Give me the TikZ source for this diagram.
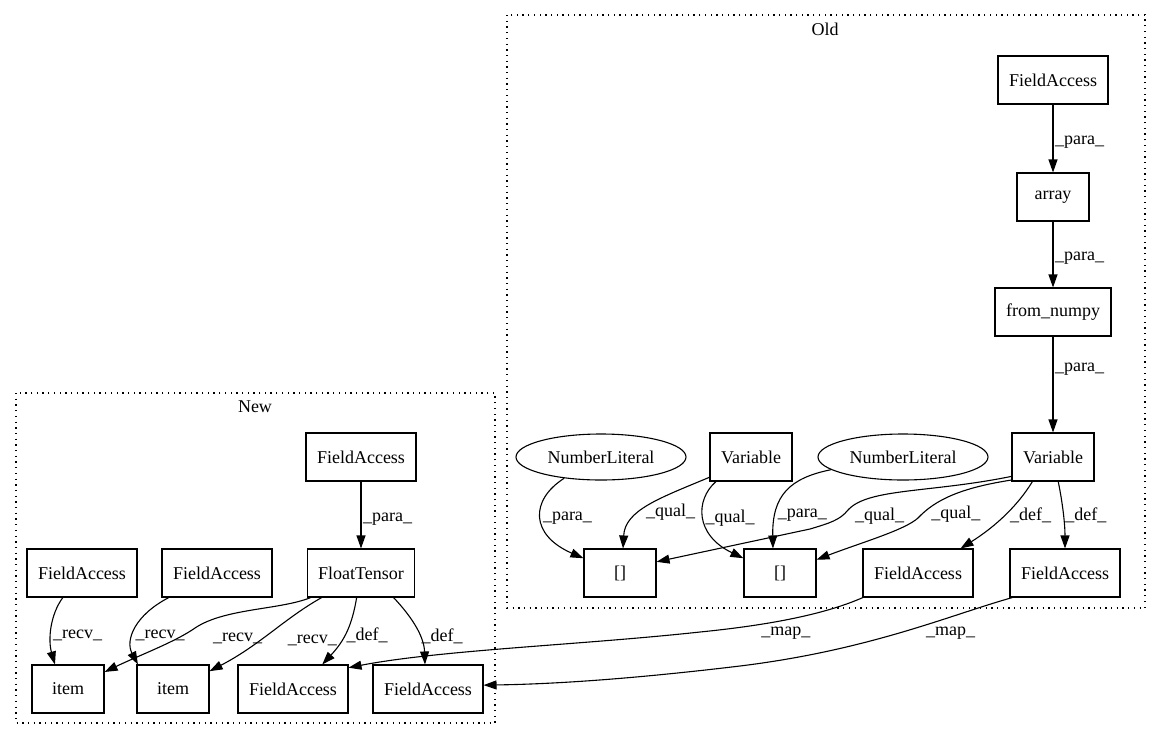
\documentclass[tikz,border=0pt]{standalone}
\usepackage{fontspec}
\setmainfont{Liberation Serif}
\usetikzlibrary{shapes,arrows.meta}
\tikzstyle{box}     = [rectangle, draw, text centered, line width=1.1pt, minimum width=72pt, minimum height=48pt, inner xsep=11pt]
\tikzstyle{literal} = [ellipse, draw, text centered, line width=1.1pt, minimum width=170pt, minimum height=46pt, inner sep=0pt]
\tikzstyle{flow}    = [draw, line width=1.1pt, ->, >={Triangle[length=13pt, width=9pt]}]
\tikzstyle{lbl}     = [inner sep=1.5pt, anchor=west]
\tikzstyle{cluster} = [draw, line width=1.2pt, dash pattern=on 1.3pt off 4.4pt]

\begin{document}
\begin{tikzpicture}[x=1pt, y=-1pt, font=\fontsize{18}{21}\selectfont]
            \useasboundingbox (0,0) rectangle (1160,740);
            % clusters
            \draw[cluster] (507,15) rectangle (1145,608);
            \node (oldname) at (825,29) {Old};
            \draw[cluster] (16,393) rectangle (495,723);
            \node (newname) at (255,407) {New};

            % old
            \node[box] (faold) at (1053,80) {FieldAccess};
            \node[box, node distance=117pt, below of=faold] (array) {array};
            \node[box, node distance=115pt, below of=array] (fromnumpy) {from\_numpy};
            \node[box, node distance=145pt, below of=fromnumpy] (varb) {Variable};
            \node[box] (vara) at (751,457) {Variable};
            \node[literal] (numa) at (601,457) {NumberLiteral};
            \node[literal] (numb) at (903,457) {NumberLiteral};
            \node[box] (idxa) at (620,573) {[]};
            \node[box] (idxb) at (780,573) {[]};
            \node[box] (fadefa) at (918,573) {FieldAccess};
            \node[box] (fadefb) at (1065,573) {FieldAccess};

            % new
            \node[box] (fanew) at (361,457) {FieldAccess};
            \node[box, node distance=116pt, below of=fanew] (floattensor) {FloatTensor};
            \node[box] (farecva) at (82,573) {FieldAccess};
            \node[box] (farecvb) at (217,573) {FieldAccess};
            \node[box] (itema) at (68,689) {item};
            \node[box] (itemb) at (173,689) {item};
            \node[box] (fanewdefa) at (293,689) {FieldAccess};
            \node[box] (fanewdefb) at (428,689) {FieldAccess};

            \path [flow] (faold) -- node[lbl, yshift=-4pt] {\_para\_} (array);
            \path [flow] (array) -- node[lbl, yshift=-4pt] {\_para\_} (fromnumpy);
            \path [flow] (fromnumpy) -- node[lbl, pos=.3, yshift=-4pt] {\_para\_} (varb);
            \path [flow] (numa.210) .. controls (530,500) and (530,535) .. (idxa.158) node[lbl, pos=.5] {\_para\_};
            \path [flow] (vara.206) .. controls (660,498) and (625,510) .. (idxa.83) node[lbl, pos=.55, yshift=-3pt] {\_qual\_};
            \path [flow] (vara.215) .. controls (695,500) and (695,535) .. (idxb.158) node[lbl, pos=.5] {\_qual\_};
            \path [flow] (numb.190) .. controls (790,478) and (772,495) .. (idxb.106) node[lbl, pos=.75] {\_para\_};
            \path [flow] (varb.205) .. controls (930,493) and (868,488) .. (848,510) node[lbl, pos=1, xshift=5pt, yshift=-6pt] {\_qual\_}
                .. controls (840,520) and (830,523) .. (810,529) -- (idxa.17);
            \path [flow] (varb.209) .. controls (960,488) and (935,500) .. (918,518) node[lbl, pos=.8, yshift=-6pt] {\_qual\_}
                .. controls (905,530) and (860,543) .. (idxb.20);
            \path [flow] (varb.230) .. controls (1015,510) and (990,530) .. (fadefa.30) node[lbl, pos=.4, yshift=-3pt] {\_def\_};
            \path [flow] (varb.282) .. controls (1063,505) and (1065,525) .. (fadefb.north) node[lbl, pos=.5] {\_def\_};
            \path [flow] (fadefa.204) .. controls (830,612) and (780,624) .. (700,632) node[lbl, pos=.58, anchor=north, yshift=-5pt] {\_map\_}
                .. controls (580,645) and (440,650) .. (fanewdefa.21);
            \path [flow] (fadefb.205) .. controls (950,615) and (870,650) .. (740,666) node[lbl, pos=.3, anchor=north, yshift=-8pt] {\_map\_}
                .. controls (640,678) and (560,684) .. (fanewdefb.4);

            \path [flow] (fanew) -- node[lbl, yshift=-4pt] {\_para\_} (floattensor);
            \path [flow] (farecva.232) .. controls (50,615) and (48,640) .. (itema.118) node[lbl, pos=.6] {\_recv\_};
            \path [flow] (farecvb.207) .. controls (135,615) and (125,640) .. (itemb.145) node[lbl, pos=.6] {\_recv\_};
            \path [flow] (floattensor.206) .. controls (280,610) and (225,608) .. (195,628) node[lbl, pos=1, xshift=16pt, yshift=-10pt] {\_recv\_}
                .. controls (175,642) and (140,655) .. (itema.25);
            \path [flow] (floattensor.212) .. controls (285,618) and (260,645) .. (itemb.26) node[lbl, pos=.5, xshift=15pt, yshift=-8pt] {\_recv\_};
            \path [flow] (floattensor.260) .. controls (352,625) and (345,640) .. (fanewdefa.40) node[lbl, pos=.55] {\_def\_};
            \path [flow] (floattensor.323) .. controls (410,615) and (424,635) .. (fanewdefb.97) node[lbl, pos=.65] {\_def\_};
        \end{tikzpicture}
\end{document}
